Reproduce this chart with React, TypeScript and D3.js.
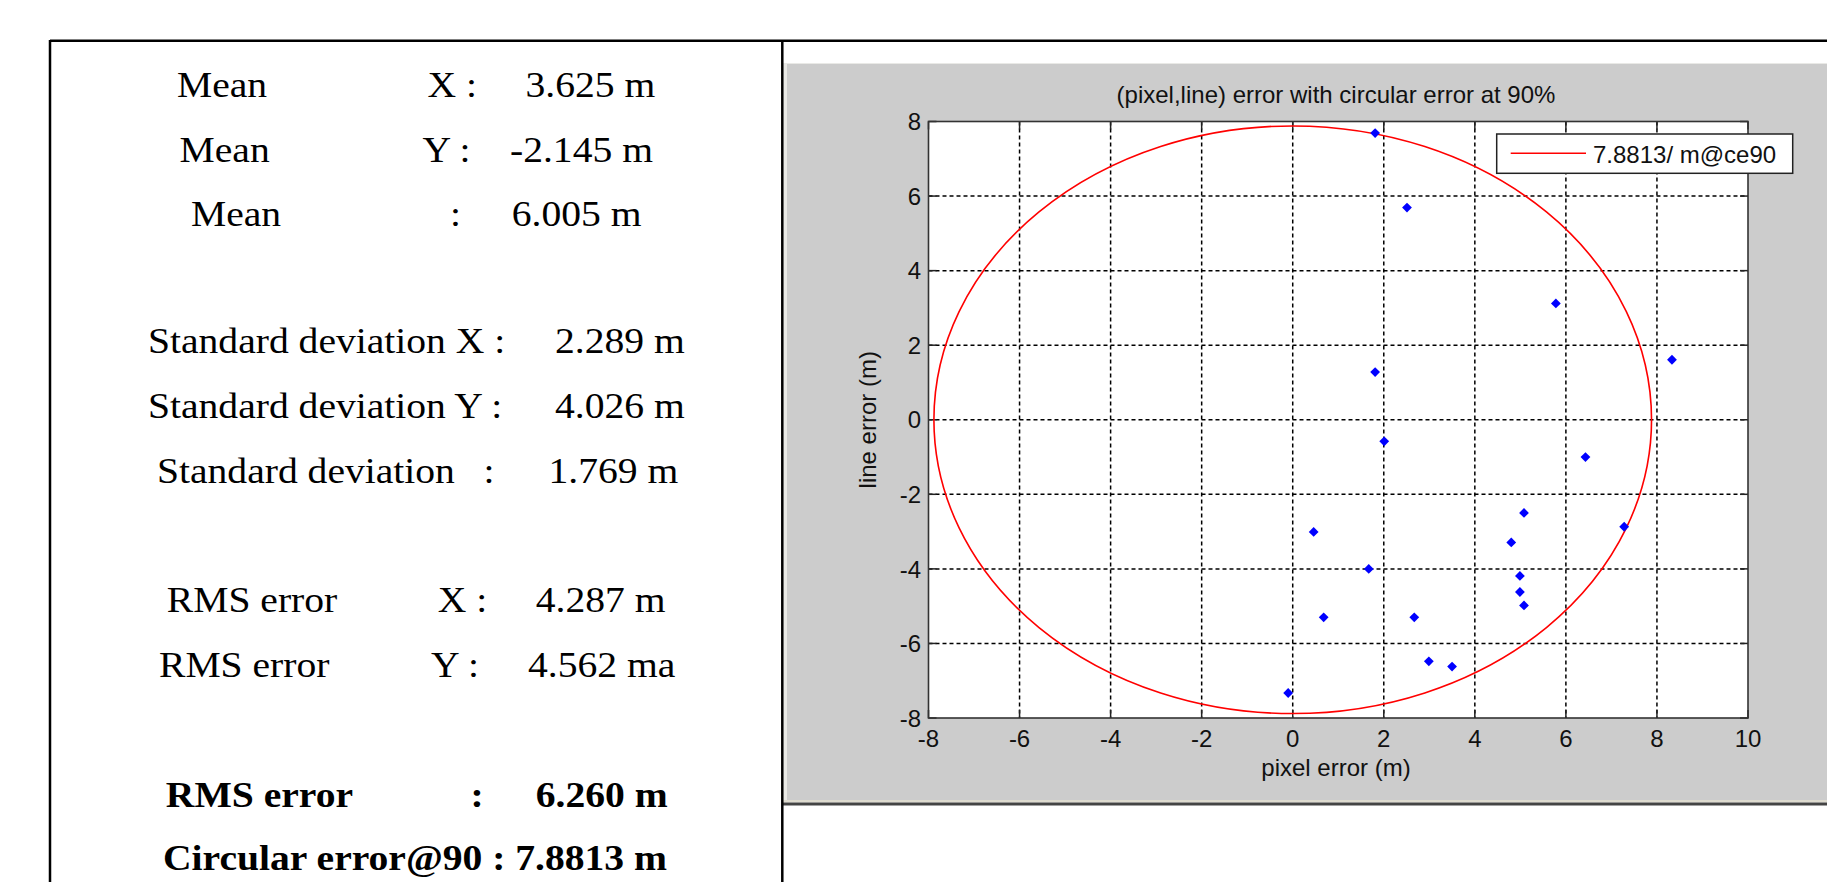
import React from 'react';
import * as d3 from 'd3';

// scatter of (pixel, line) errors, metres
const pixelErr = [1.81, 2.51, 5.78, 8.33, 1.81, 2.01, 6.43, 5.08, 0.46, 7.28, 4.8, 1.67, 4.99, 4.99, 5.08, 0.68, 2.67, 2.99, 3.5, -0.1];
const lineErr = [7.69, 5.69, 3.12, 1.61, 1.28, -0.58, -1.0, -2.5, -3.01, -2.87, -3.29, -4.0, -4.19, -4.62, -4.98, -5.3, -5.3, -6.48, -6.62, -7.33];

const xTicks = [-8, -6, -4, -2, 0, 2, 4, 6, 8, 10];
const yTicks = [-8, -6, -4, -2, 0, 2, 4, 6, 8];

const ce90 = 7.8813;
const legendLabel = '7.8813/ m@ce90';
const chartTitle = '(pixel,line) error with circular error at 90%';
const xLabel = 'pixel error (m)';
const yLabel = 'line error (m)';

// statistics table rows: label, axis part, value
const statLabels = ['Mean', 'Mean', 'Mean', 'Standard deviation X :', 'Standard deviation Y :', 'Standard deviation', 'RMS error', 'RMS error', 'RMS error'];
const statAxes = ['X :', 'Y :', ':', '', '', ':', 'X :', 'Y :', ':'];
const statValues = ['3.625 m', '-2.145 m', '6.005 m', '2.289 m', '4.026 m', '1.769 m', '4.287 m', '4.562 ma', '6.260 m'];
const statBold = [false, false, false, false, false, false, false, false, true];
const lastLine = 'Circular error@90 : 7.8813 m';

// layout of the table text: [label x, axis x, value x, baseline]
const rowLayout = [
  [177, 427.5, 525.5, 97],
  [179.6, 422.4, 510, 161.7],
  [191, 450, 511.7, 226],
  [148, 0, 555, 353],
  [148, 0, 555, 418],
  [157, 483.5, 548.5, 482.7],
  [166.8, 437.8, 535.7, 611.7],
  [159, 431, 528, 676.7],
  [165.8, 470.5, 535.7, 806.7],
];

const W = 1827;
const H = 882;

const STxt = ({ x, y, bold, children }: any) => (
  <text
    transform={`translate(${x},${y}) scale(1.1,1)`}
    fontFamily="'Liberation Serif', 'Times New Roman', serif"
    fontSize={36}
    fontWeight={bold ? 'bold' : 'normal'}
    fill="#000"
  >
    {children}
  </text>
);

export default function App() {
  const x = d3.scaleLinear().domain([-8, 10]).range([928.5, 1748]);
  const y = d3.scaleLinear().domain([-8, 8]).range([718, 121.5]);
  const [x0, x1] = x.range();
  const [y0, y1] = y.range();
  const diamond = d3.symbol(d3.symbolSquare, 48)() as string;
  const font = "'Liberation Sans', Arial, sans-serif";
  const tick = 8;

  return (
    <svg width={W} height={H} style={{ position: 'absolute', left: 0, top: 0 }}>
      <rect width={W} height={H} fill="#fff" />

      {/* figure window */}
      <rect x={783} y={63} width={W - 783} height={738} fill="#e9e9e6" />
      <rect x={787} y={64} width={W - 787} height={736} fill="#cccccc" />
      <rect x={783} y={800} width={W - 783} height={2.5} fill="#dedbcf" />
      <rect x={783} y={802.5} width={W - 783} height={3} fill="#444" />

      {/* table lines */}
      <line x1={50} y1={40.7} x2={W} y2={40.7} stroke="#000" strokeWidth={2.5} />
      <line x1={50} y1={40} x2={50} y2={H} stroke="#000" strokeWidth={2.5} />
      <line x1={782.3} y1={40} x2={782.3} y2={H} stroke="#000" strokeWidth={2.5} />

      {rowLayout.map((r, i) => (
        <g key={i}>
          <STxt x={r[0]} y={r[3]} bold={statBold[i]}>{statLabels[i]}</STxt>
          {statAxes[i] && <STxt x={r[1]} y={r[3]} bold={statBold[i]}>{statAxes[i]}</STxt>}
          <STxt x={r[2]} y={r[3]} bold={statBold[i]}>{statValues[i]}</STxt>
        </g>
      ))}
      <STxt x={163} y={870} bold>{lastLine}</STxt>

      {/* axes */}
      <rect x={x0} y={y1} width={x1 - x0} height={y0 - y1} fill="#fff" />
      <g stroke="#000" strokeWidth={1.5} strokeDasharray="4,3">
        {xTicks.slice(1, -1).map(t => (
          <line key={t} x1={x(t)} x2={x(t)} y1={y1} y2={y0} />
        ))}
        {yTicks.slice(1, -1).map(t => (
          <line key={t} x1={x0} x2={x1} y1={y(t)} y2={y(t)} />
        ))}
      </g>
      <g stroke="#222" strokeWidth={1.5}>
        {xTicks.map(t => (
          <g key={t}>
            <line x1={x(t)} x2={x(t)} y1={y0} y2={y0 - tick} />
            <line x1={x(t)} x2={x(t)} y1={y1} y2={y1 + tick} />
          </g>
        ))}
        {yTicks.map(t => (
          <g key={t}>
            <line x1={x0} x2={x0 + tick} y1={y(t)} y2={y(t)} />
            <line x1={x1} x2={x1 - tick} y1={y(t)} y2={y(t)} />
          </g>
        ))}
      </g>

      <ellipse
        cx={x(0)}
        cy={y(0)}
        rx={x(ce90) - x(0)}
        ry={y(0) - y(ce90)}
        fill="none"
        stroke="#ff0000"
        strokeWidth={1.6}
      />

      {pixelErr.map((px, i) => (
        <path key={i} d={diamond} transform={`translate(${x(px)},${y(lineErr[i])}) rotate(45)`} fill="#0000ff" />
      ))}

      <rect x={x0} y={y1} width={x1 - x0} height={y0 - y1} fill="none" stroke="#333" strokeWidth={1.6} />

      <g fontFamily={font} fontSize={24} fill="#111">
        {xTicks.map(t => (
          <text key={t} x={x(t)} y={746.5} textAnchor="middle">{t}</text>
        ))}
        {yTicks.map(t => (
          <text key={t} x={921} y={y(t)} dy="0.36em" textAnchor="end">{t}</text>
        ))}
        <text x={1336} y={103} textAnchor="middle">{chartTitle}</text>
        <text x={1336} y={776} textAnchor="middle">{xLabel}</text>
        <text transform={`translate(876,${(y0 + y1) / 2}) rotate(-90)`} textAnchor="middle">{yLabel}</text>
      </g>

      {/* legend */}
      <rect x={1496.7} y={134} width={296} height={39.3} fill="#fff" stroke="#222" strokeWidth={1.5} />
      <line x1={1510.7} x2={1586} y1={153.3} y2={153.3} stroke="#ff0000" strokeWidth={1.5} />
      <text x={1593} y={162.5} fontFamily={font} fontSize={24} fill="#111">{legendLabel}</text>
    </svg>
  );
}
